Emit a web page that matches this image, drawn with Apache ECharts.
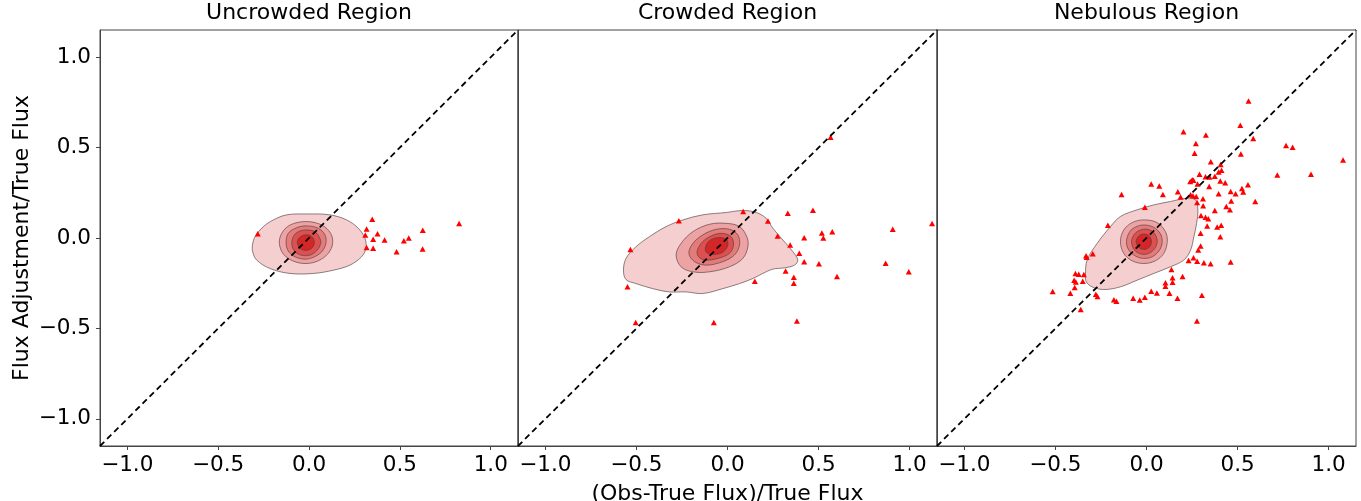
<!DOCTYPE html>
<html>
<head>
<meta charset="utf-8">
<script src="https://cdn.jsdelivr.net/npm/echarts@6/dist/echarts.min.js"></script>
<style>html,body{margin:0;padding:0;background:#fff}#c{width:1361px;height:501px}</style>
</head>
<body>
<div id="c"></div>
<script>
// ---------- data ----------
const panelTitles = ['Uncrowded Region', 'Crowded Region', 'Nebulous Region'];
const tickValues = [-1.0, -0.5, 0.0, 0.5, 1.0];
const axisRange = [-1.15, 1.15];
const diagonal = [-1.15, 1.15];

const uncrowdedPoints = [
  [-0.282, 0.024], [0.348, 0.104], [0.317, 0.050], [0.310, 0.017], [0.377, 0.024],
  [0.353, -0.007], [0.416, -0.011], [0.317, -0.052], [0.353, -0.057], [0.482, -0.076],
  [0.522, -0.015], [0.549, 0.000], [0.626, 0.043], [0.625, -0.061], [0.826, 0.080]
];
const crowdedPoints = [
  [-0.533, -0.063], [-0.549, -0.270], [-0.267, 0.096], [0.086, 0.146], [0.222, 0.094],
  [0.331, 0.137], [0.469, 0.154], [0.275, 0.011], [0.344, -0.039], [0.421, 0.002],
  [0.518, 0.028], [0.575, 0.035], [0.526, 0.000], [0.394, -0.085], [0.421, -0.131],
  [0.502, -0.143], [0.319, -0.183], [0.364, -0.217], [0.364, -0.250], [0.601, -0.213],
  [0.150, -0.239], [0.868, -0.139], [0.907, 0.048], [0.995, -0.187], [1.123, 0.080],
  [-0.504, -0.467], [-0.075, -0.467], [0.381, -0.459], [0.566, 0.557]
];
const nebulousPoints = [
  [0.560, 0.757], [0.515, 0.624], [0.586, 0.550], [0.203, 0.587], [0.326, 0.569],
  [0.271, 0.522], [0.264, 0.469], [0.518, 0.465], [0.766, 0.511], [0.802, 0.502],
  [1.079, 0.431], [0.353, 0.422], [0.407, 0.407], [0.412, 0.374], [0.396, 0.365],
  [0.291, 0.352], [0.324, 0.339], [0.346, 0.337], [0.251, 0.322], [0.258, 0.319],
  [0.240, 0.313], [0.280, 0.298], [0.375, 0.341], [0.405, 0.315], [0.432, 0.306],
  [0.344, 0.285], [0.557, 0.294], [0.524, 0.274], [0.531, 0.254], [0.489, 0.244],
  [0.462, 0.257], [0.396, 0.244], [0.718, 0.348], [0.903, 0.352], [0.597, 0.202],
  [0.026, 0.298], [0.070, 0.287], [0.090, 0.241], [0.172, 0.256], [0.187, 0.226],
  [-0.137, 0.241], [0.242, 0.239], [0.255, 0.233], [0.273, 0.230], [0.278, 0.196],
  [0.310, 0.217], [0.311, 0.178], [0.375, 0.152], [0.438, 0.174], [0.458, 0.156],
  [0.465, 0.204], [0.299, 0.124], [0.324, 0.115], [0.339, 0.107], [0.333, 0.067],
  [0.388, 0.061], [0.410, 0.070], [0.405, 0.007], [0.297, 0.026], [0.297, -0.044],
  [0.284, -0.067], [0.258, -0.109], [0.231, -0.124], [0.278, -0.128], [0.315, -0.137],
  [0.352, -0.143], [0.462, -0.133], [-0.009, 0.170], [-0.212, 0.070], [-0.295, -0.087],
  [-0.332, -0.098], [-0.328, -0.107], [0.137, -0.174], [0.198, -0.213], [0.143, -0.220],
  [0.143, -0.244], [0.104, -0.248], [0.104, -0.267], [0.126, -0.306], [0.170, -0.333],
  [0.057, -0.304], [0.026, -0.294], [-0.009, -0.328], [-0.037, -0.343], [-0.073, -0.333],
  [-0.179, -0.341], [-0.165, -0.350], [-0.269, -0.324], [-0.278, -0.311], [-0.390, -0.196],
  [-0.372, -0.200], [-0.344, -0.202], [-0.397, -0.233], [-0.388, -0.243], [-0.350, -0.239],
  [-0.394, -0.274], [-0.418, -0.306], [-0.515, -0.296], [-0.361, -0.396], [0.277, -0.459],
  [0.304, -0.317]
];

// density contour outlines (outer -> inner)
const uncrowdedContours = [
  [[-0.311,-0.039],[-0.297,0.007],[-0.251,0.063],[-0.196,0.100],[-0.123,0.128],[-0.013,0.133],
   [0.115,0.128],[0.207,0.100],[0.271,0.054],[0.308,-0.002],[0.313,-0.057],[0.289,-0.104],
   [0.225,-0.150],[0.134,-0.178],[0.024,-0.196],[-0.104,-0.196],[-0.214,-0.169],[-0.288,-0.122],[-0.310,-0.076]],
  [[-0.163,-0.030],[-0.150,0.026],[-0.104,0.072],[-0.016,0.091],[0.070,0.072],[0.119,0.026],
   [0.130,-0.030],[0.106,-0.085],[0.051,-0.126],[-0.016,-0.141],[-0.086,-0.128],[-0.141,-0.089]],
  [[-0.126,-0.026],[-0.114,0.026],[-0.068,0.057],[-0.013,0.067],[0.051,0.054],[0.088,0.017],
   [0.093,-0.030],[0.070,-0.076],[0.024,-0.107],[-0.022,-0.117],[-0.077,-0.104],[-0.114,-0.072]],
  [[-0.095,-0.026],[-0.081,0.017],[-0.049,0.039],[-0.013,0.044],[0.033,0.035],[0.060,-0.002],
   [0.064,-0.030],[0.046,-0.067],[0.015,-0.091],[-0.022,-0.098],[-0.059,-0.089],[-0.086,-0.063]],
  [[-0.064,-0.026],[-0.053,0.002],[-0.022,0.017],[0.009,0.013],[0.027,-0.011],[0.027,-0.039],
   [0.009,-0.061],[-0.022,-0.068],[-0.049,-0.057]]
];
const crowdedContours = [
  [[-0.571,-0.178],[-0.557,-0.113],[-0.502,-0.048],[-0.429,0.007],[-0.337,0.063],[-0.245,0.100],
   [-0.136,0.128],[-0.007,0.141],[0.084,0.152],[0.158,0.141],[0.212,0.109],[0.249,0.054],
   [0.304,-0.011],[0.359,-0.076],[0.386,-0.122],[0.368,-0.150],[0.313,-0.165],[0.249,-0.172],
   [0.194,-0.196],[0.139,-0.224],[0.066,-0.252],[-0.026,-0.280],[-0.136,-0.307],[-0.227,-0.298],
   [-0.319,-0.298],[-0.410,-0.280],[-0.502,-0.252],[-0.557,-0.230]],
  [[-0.282,-0.094],[-0.255,-0.030],[-0.190,0.035],[-0.099,0.076],[-0.007,0.081],[0.066,0.063],
   [0.106,0.007],[0.112,-0.048],[0.084,-0.113],[0.011,-0.159],[-0.099,-0.187],[-0.190,-0.187],[-0.255,-0.159]],
  [[-0.212,-0.085],[-0.190,-0.030],[-0.136,0.017],[-0.062,0.048],[0.011,0.048],[0.057,0.017],
   [0.066,-0.039],[0.038,-0.094],[-0.026,-0.131],[-0.117,-0.150],[-0.181,-0.131]],
  [[-0.167,-0.076],[-0.145,-0.030],[-0.099,0.007],[-0.035,0.026],[0.020,0.007],[0.033,-0.039],
   [0.011,-0.085],[-0.053,-0.113],[-0.126,-0.122],[-0.158,-0.104]],
  [[-0.121,-0.052],[-0.099,-0.015],[-0.053,0.002],[-0.007,-0.007],[0.002,-0.039],[-0.022,-0.076],
   [-0.071,-0.091],[-0.114,-0.081]]
];
const nebulousContours = [
  [[-0.335,-0.206],[-0.326,-0.122],[-0.271,-0.030],[-0.198,0.063],[-0.143,0.119],[-0.051,0.156],
   [0.040,0.183],[0.132,0.202],[0.223,0.220],[0.269,0.211],[0.282,0.156],[0.275,0.081],
   [0.260,0.007],[0.242,-0.067],[0.205,-0.122],[0.132,-0.159],[0.040,-0.196],[-0.051,-0.233],
   [-0.143,-0.270],[-0.234,-0.285],[-0.299,-0.270],[-0.330,-0.243]],
  [[-0.143,-0.020],[-0.125,0.044],[-0.079,0.085],[-0.015,0.100],[0.059,0.085],[0.104,0.035],
   [0.114,-0.020],[0.095,-0.085],[0.049,-0.126],[-0.015,-0.141],[-0.079,-0.126],[-0.125,-0.085]],
  [[-0.110,-0.020],[-0.092,0.035],[-0.055,0.063],[-0.011,0.072],[0.040,0.059],[0.077,0.022],
   [0.086,-0.026],[0.068,-0.072],[0.031,-0.104],[-0.015,-0.113],[-0.060,-0.100],[-0.097,-0.067]],
  [[-0.082,-0.020],[-0.066,0.022],[-0.033,0.044],[0.004,0.048],[0.040,0.030],[0.059,-0.015],
   [0.046,-0.057],[0.013,-0.085],[-0.029,-0.089],[-0.066,-0.067]],
  [[-0.057,-0.020],[-0.042,0.011],[-0.015,0.022],[0.013,0.013],[0.027,-0.015],[0.018,-0.048],
   [-0.011,-0.063],[-0.042,-0.052]]
];

const panelPoints = [uncrowdedPoints, crowdedPoints, nebulousPoints];
const panelContours = [uncrowdedContours, crowdedContours, nebulousContours];

// ---------- styles / layout ----------
const FONT = 'DejaVu Sans';
const levelFills = ['#f5cfcf', '#eda3a3', '#e47b7b', '#dc5050', '#d42626'];
const gridLefts = [100, 518, 937];
const gridWidths = [418, 419, 419];
const spineColor = '#444';
const fmt = v => (v < 0 ? '\u2212' : '') + Math.abs(v).toFixed(1);

const chart = echarts.init(document.getElementById('c'), null, {renderer: 'canvas'});

const grids = [], xAxes = [], yAxes = [], series = [], titles = [];
for (let i = 0; i < 3; i++) {
  grids.push({left: gridLefts[i], width: gridWidths[i], top: 30, height: 416,
    outerBoundsMode: 'none', containLabel: false,
    show: true, borderColor: spineColor, borderWidth: 1, backgroundColor: 'transparent'});
  titles.push({text: panelTitles[i], left: gridLefts[i] + gridWidths[i] / 2, top: 2,
    textAlign: 'center', padding: 0,
    textStyle: {fontFamily: FONT, fontSize: 22, fontWeight: 'normal', color: '#000'}});
  xAxes.push({
    type: 'value', gridIndex: i, min: axisRange[0], max: axisRange[1], position: 'bottom',
    axisLine: {show: true, onZero: false, lineStyle: {color: spineColor, width: 1}}, splitLine: {show: false},
    axisTick: {show: true, inside: false, length: 4, customValues: tickValues, lineStyle: {color: spineColor, width: 1}},
    axisLabel: {show: true, customValues: tickValues, formatter: fmt, margin: 8,
      fontFamily: FONT, fontSize: 21.5, color: '#000'},
    name: i === 1 ? '(Obs-True Flux)/True Flux' : '', nameLocation: 'middle', nameGap: 37,
    nameTextStyle: {fontFamily: FONT, fontSize: 22, color: '#000'}
  });
  yAxes.push({
    type: 'value', gridIndex: i, min: axisRange[0], max: axisRange[1], position: 'left',
    axisLine: {show: true, onZero: false, lineStyle: {color: spineColor, width: 1}}, splitLine: {show: false},
    axisTick: {show: i === 0, inside: false, length: 4, customValues: tickValues, lineStyle: {color: spineColor, width: 1}},
    axisLabel: {show: i === 0, customValues: tickValues, formatter: fmt, margin: 9,
      fontFamily: FONT, fontSize: 21.5, color: '#000'},
    name: i === 0 ? 'Flux Adjustment/True Flux' : '', nameLocation: 'middle', nameGap: 67, nameRotate: 90,
    nameTextStyle: {fontFamily: FONT, fontSize: 22, color: '#000'}
  });
  const levels = panelContours[i];
  series.push({
    type: 'custom', xAxisIndex: i, yAxisIndex: i, silent: true, z: 1,
    data: [[0, 0]],
    renderItem: (params, api) => ({
      type: 'group',
      children: levels.map((pts, k) => ({
        type: 'polygon',
        shape: {points: pts.map(p => api.coord(p)), smooth: 0.35},
        style: {fill: levelFills[k], stroke: 'rgba(80,60,60,0.8)', lineWidth: 0.8}
      }))
    })
  });
  series.push({
    type: 'scatter', xAxisIndex: i, yAxisIndex: i, z: 3, silent: true,
    symbol: 'triangle', symbolSize: [6, 5.5],
    itemStyle: {color: '#ff0000', opacity: 1},
    data: panelPoints[i]
  });
  series.push({
    type: 'line', xAxisIndex: i, yAxisIndex: i, z: 4, silent: true,
    symbol: 'none', clip: true,
    lineStyle: {color: '#000', width: 1.8, type: [6, 4]},
    data: [[diagonal[0], diagonal[0]], [diagonal[1], diagonal[1]]]
  });
}

chart.setOption({
  animation: false,
  backgroundColor: '#fff',
  title: titles,
  grid: grids,
  xAxis: xAxes,
  yAxis: yAxes,
  series: series
});
</script>
</body>
</html>
